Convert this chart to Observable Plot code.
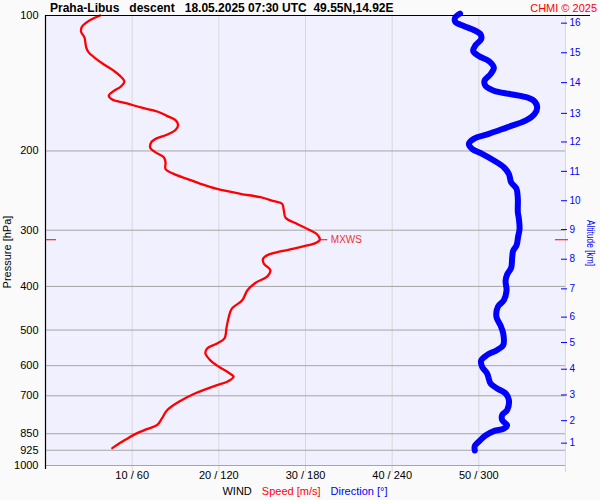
<!DOCTYPE html>
<html>
<head>
<meta charset="utf-8">
<script src="https://cdn.jsdelivr.net/npm/d3@7"></script>
<script src="https://cdn.jsdelivr.net/npm/@observablehq/plot@0.6"></script>
<style>
  body { margin: 0; background: #fafafa; }
  #chart svg { display: block; }
</style>
</head>
<body>
<div id="chart"></div>
<script>
// ---- texts ----
const titleText = "Praha-Libus   descent   18.05.2025 07:30 UTC  49.55N,14.92E";
const copyrightText = "CHMI © 2025";
const yLabelText = "Pressure [hPa]";
const altLabelText = "Altitude [km]";
const maxWindLabel = "MXWS";

// ---- axes ----
const pressureTicks = [100, 200, 300, 400, 500, 600, 700, 850, 925, 1000];
const pressureGrid = [200, 300, 400, 500, 600, 700, 850, 925, 1000];
const speedGrid = [10, 20, 30, 40, 50, 60];
const speedTicks = [10, 20, 30, 40, 50];
const speedTickLabels = ["10 / 60", "20 / 120", "30 / 180", "40 / 240", "50 / 300"];
const altKm = [1, 2, 3, 4, 5, 6, 7, 8, 9, 10, 11, 12, 13, 14, 15, 16];
const altPressure = [892, 795, 697, 611, 533, 468, 405, 348, 299, 258, 222, 191, 165, 141, 121, 104];

// ---- wind speed profile (m/s) ----
const speedPressure = [100, 102.8, 106, 108.6, 112, 117.8, 120.9, 124, 128.3, 132.8, 136.2, 140.2, 144.1, 147, 150.8, 153.7, 156.8, 160.1, 163.4, 167.1, 170.8, 175.2, 179.7, 184.1, 187.2, 191.4, 197, 201.4, 206.6, 212, 219.3, 224.9, 230.7, 236.6, 242.8, 249, 253.4, 258.6, 262, 271.2, 281.5, 290.3, 299.3, 306.6, 315, 320.5, 324.3, 329.8, 334.4, 339.5, 347, 356, 368.4, 379.9, 393, 408, 429.4, 448, 467.6, 492.1, 521.9, 535.5, 549.3, 563.6, 583.2, 603.5, 622.3, 635.1, 651.5, 662.6, 677.3, 693.8, 717.9, 752.8, 785.1, 812.4, 830.4, 850.6, 877, 915];
const speedValue = [6.3, 5.0, 4.2, 4.1, 4.5, 4.7, 5.0, 5.65, 6.7, 7.9, 8.6, 9.1, 8.65, 7.9, 7.3, 7.7, 9.4, 11.0, 12.9, 14.0, 15.0, 15.3, 15.0, 14.0, 12.9, 12.2, 12.1, 12.7, 13.65, 13.85, 13.85, 14.8, 16.35, 17.9, 19.8, 22.5, 24.8, 26.35, 27.3, 27.5, 27.7, 29.0, 30.4, 31.35, 31.65, 31.15, 30.2, 28.65, 27.1, 25.8, 25.1, 25.2, 25.95, 25.6, 24.2, 23.3, 22.7, 21.5, 21.15, 20.9, 20.65, 19.8, 18.65, 18.45, 19.0, 20.0, 21.15, 21.7, 20.95, 19.8, 18.45, 17.1, 15.6, 14.05, 13.45, 12.9, 11.7, 10.4, 9.2, 7.7];

// ---- wind direction profile (deg) ----
const dirPressure = [99, 101.1, 103.4, 105.5, 107.7, 110.1, 112.9, 116.4, 119.9, 123, 126.2, 130.5, 135, 139.7, 143.3, 147, 149.5, 151.4, 154.7, 160.1, 165.6, 171.3, 177.2, 183.3, 188, 192.9, 197.9, 203, 210, 217.4, 225, 234.9, 242.8, 255.5, 273.5, 282.8, 297.9, 310, 324.3, 332.9, 344.6, 363.5, 376.3, 389, 408, 429.4, 443.7, 467.6, 488.5, 509.1, 540, 553.6, 567.8, 584.3, 603.5, 624.8, 657.2, 674, 691.3, 715, 752.8, 772, 793, 814.1, 828.3, 838.8, 858, 884.5, 905, 926.3];
const dirValue = [287, 283.6, 283.8, 289.6, 296.5, 301.2, 301.6, 297.7, 296.1, 300, 306.9, 310.4, 308.1, 303.9, 304.6, 310.4, 321.9, 331.1, 338.1, 340.4, 338.5, 332.3, 319.6, 306.9, 296.5, 293.1, 295.4, 302.3, 310.4, 317.3, 320.8, 322.4, 326.1, 327, 327, 327.7, 328.2, 327.2, 326.1, 323.8, 323.1, 322.4, 319.6, 318.5, 319.2, 317.3, 313.2, 312.2, 315, 316.9, 316.9, 312.7, 305.8, 301.6, 302.3, 305.8, 308.1, 312.7, 318.5, 320.8, 319.6, 316.2, 316.2, 319.6, 317.3, 310.4, 304.6, 300, 297.2, 297.2];

// ---- max wind ----
const maxWindPressure = [315];
const maxWindSpeed = [31.65];

// ---- build tables ----
const speedData = speedPressure.map((p, i) => ({p, v: speedValue[i]}));
const dirData = dirPressure.map((p, i) => ({p, v: dirValue[i] / 6})); // 60° per 10 m/s
const maxWind = maxWindPressure.map((p, i) => ({p, v: maxWindSpeed[i]}));
const altMap = new Map(altPressure.map((p, i) => [p, String(altKm[i])]));
const speedLabelMap = new Map(speedTicks.map((s, i) => [s, speedTickLabels[i]]));

const FONT = "'Liberation Sans', Arial, Helvetica, sans-serif";

const chart = Plot.plot({
  width: 600,
  height: 500,
  marginTop: 15,
  marginBottom: 35,
  marginLeft: 45,
  marginRight: 35,
  style: { background: "#fafafa", fontFamily: FONT, fontSize: "11px", overflow: "visible" },
  x: { domain: [0, 60] },
  y: { type: "log", domain: [100, 1000], reverse: true },
  marks: [
    Plot.frame({ fill: "#f0f0fe", stroke: null }),
    Plot.ruleX(speedGrid, { stroke: "#d8d8d8", strokeWidth: 1, insetBottom: -7 }),
    Plot.ruleY(pressureGrid, { stroke: "#a6a6a6", strokeWidth: 1 }),
    // axes
    Plot.axisY({ anchor: "left", ticks: pressureTicks, tickSize: 0, tickPadding: 7, fontSize: 11, label: null, tickFormat: d => String(d) }),
    Plot.axisY({ anchor: "right", ticks: altPressure, tickSize: 6, tickPadding: 3, dx: -5, color: "blue", fontSize: 10, label: null, tickFormat: d => altMap.get(d) }),
    Plot.axisX({ anchor: "bottom", ticks: speedTicks, tickSize: 0, tickPadding: 6, fontSize: 11, label: null, tickFormat: d => speedLabelMap.get(d) }),
    // max wind markers on both sides of the frame
    Plot.ruleY(maxWind, { x1: 0, x2: 0, y: "p", stroke: "red", strokeWidth: 1, insetRight: -11 }),
    Plot.ruleY(maxWind, { x1: 60, x2: 60, y: "p", stroke: "red", strokeWidth: 1, insetLeft: -10, insetRight: -3 }),
    // profiles
    Plot.line(dirData, { x: "v", y: "p", stroke: "blue", strokeWidth: 6, curve: "catmull-rom", strokeLinecap: "round", strokeLinejoin: "round" }),
    Plot.line(speedData, { x: "v", y: "p", stroke: "red", strokeWidth: 2.3, curve: "catmull-rom" }),
    Plot.ruleY(maxWind, { x1: "v", x2: "v", y: "p", stroke: "red", strokeWidth: 1, insetRight: -8 }),
    Plot.text(maxWind, { x: "v", y: "p", text: () => maxWindLabel, dx: 11, textAnchor: "start", fill: "#f03030", fontSize: 10 }),
    // frame lines
    Plot.ruleY([100], { stroke: "black", strokeWidth: 1.2, insetRight: -25 }),
    Plot.ruleX([0], { stroke: "black", strokeWidth: 1.2, insetBottom: -4 })
  ]
});

document.getElementById("chart").appendChild(chart);

// ---- header, footer, axis titles ----
const svg = d3.select(chart);
const xs = chart.scale("x"), ys = chart.scale("y");
const plotLeft = xs.apply(0), plotRight = xs.apply(60);
const plotTop = ys.apply(100), plotBottom = ys.apply(1000);

svg.append("text")
  .attr("x", plotLeft + 5).attr("y", plotTop - 3)
  .attr("font-family", FONT).attr("font-size", 12).attr("font-weight", "bold")
  .attr("text-anchor", "start")
  .attr("fill", "black").style("white-space", "pre")
  .text(titleText);

svg.append("text")
  .attr("x", 597).attr("y", plotTop - 3)
  .attr("font-family", FONT).attr("font-size", 11).attr("text-anchor", "end")
  .attr("fill", "red")
  .text(copyrightText);

svg.append("text")
  .attr("transform", `translate(${plotLeft - 34},${ys.apply(Math.sqrt(100 * 1000)) + 12}) rotate(-90)`)
  .attr("font-family", FONT).attr("font-size", 11).attr("text-anchor", "middle")
  .attr("fill", "black")
  .text(yLabelText);

svg.append("text")
  .attr("transform", `translate(${plotRight + 21.5},${(plotTop + plotBottom) / 2 + 3}) rotate(90)`)
  .attr("font-family", FONT).attr("font-size", 10).attr("text-anchor", "middle")
  .attr("textLength", 46).attr("lengthAdjust", "spacingAndGlyphs")
  .attr("fill", "blue")
  .text(altLabelText);

const footer = svg.append("text")
  .attr("x", (plotLeft + plotRight) / 2).attr("y", plotBottom + 29.5)
  .attr("font-family", FONT).attr("font-size", 11).attr("text-anchor", "middle");
footer.append("tspan").attr("fill", "black").text("WIND");
footer.append("tspan").attr("fill", "red").attr("dx", 10).text("Speed [m/s]");
footer.append("tspan").attr("fill", "blue").attr("dx", 10).text("Direction [°]");
</script>
</body>
</html>
